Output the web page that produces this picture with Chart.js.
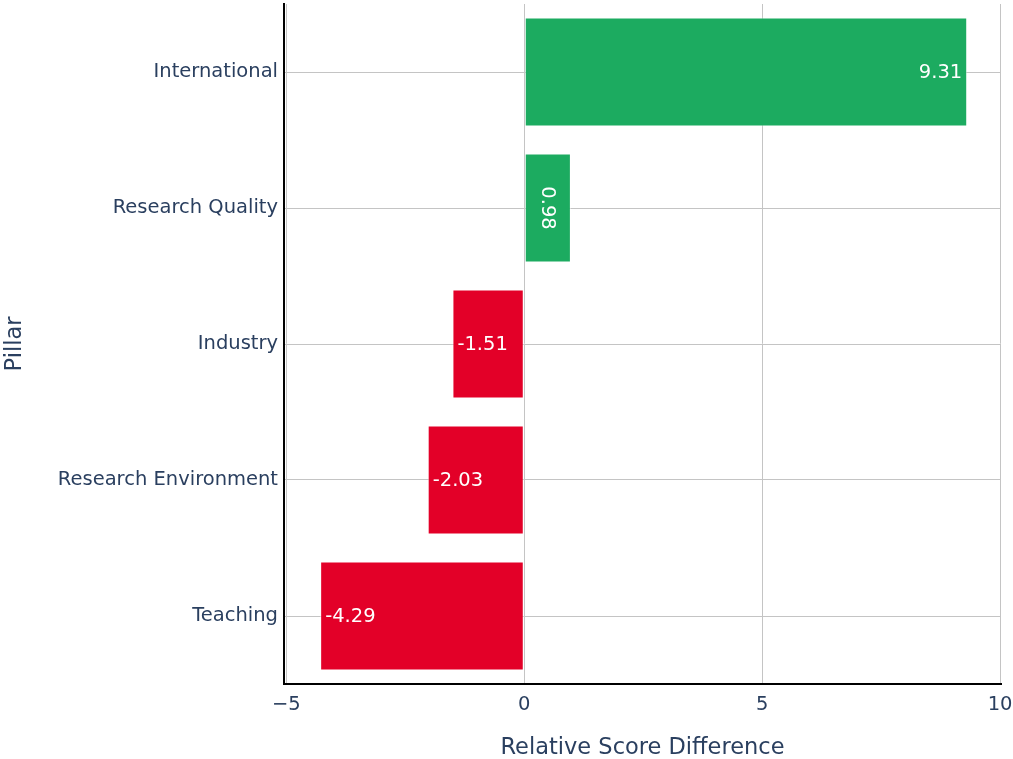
<!DOCTYPE html>
<html>
<head>
<meta charset="utf-8">
<script src="https://cdn.jsdelivr.net/npm/chart.js@4.4.1/dist/chart.umd.min.js"></script>
<style>
  html, body { margin: 0; padding: 0; background: #ffffff; }
  #wrap { width: 1013px; height: 759px; }
</style>
</head>
<body>
<div id="wrap"><canvas id="c" width="1013" height="759"></canvas></div>
<script>
const categories = ['International', 'Research Quality', 'Industry', 'Research Environment', 'Teaching'];
const values = [9.31, 0.98, -1.51, -2.03, -4.29];
const xTicks = [-5, 0, 5, 10];
const xTitle = 'Relative Score Difference';
const yTitle = 'Pillar';

const POS_COLOR = '#1cab60';
const NEG_COLOR = '#e30028';
const TEXT_COLOR = '#2a3f5f';
const GRID_COLOR = '#c4c4c4';
const FONT = 'DejaVu Sans, Verdana, sans-serif';

const labelPlugin = {
  id: 'barLabels',
  afterDatasetsDraw(chart) {
    const ctx = chart.ctx;
    const meta = chart.getDatasetMeta(0);
    const data = chart.data.datasets[0].data;
    ctx.save();
    ctx.font = '19.5px ' + FONT;
    ctx.fillStyle = '#ffffff';
    ctx.textBaseline = 'middle';
    meta.data.forEach((bar, i) => {
      const v = data[i];
      const txt = v.toFixed(2);
      const w = ctx.measureText(txt).width;
      const left = Math.min(bar.x, bar.base);
      const right = Math.max(bar.x, bar.base);
      const barW = right - left;
      const pad = 5;
      if (w + 2 * pad <= barW) {
        if (v >= 0) {
          ctx.textAlign = 'right';
          ctx.fillText(txt, right - pad, bar.y + 1);
        } else {
          ctx.textAlign = 'left';
          ctx.fillText(txt, left + pad, bar.y + 1);
        }
      } else {
        ctx.save();
        ctx.translate((left + right) / 2, bar.y);
        ctx.rotate(Math.PI / 2);
        ctx.textAlign = 'center';
        ctx.fillText(txt, 0, 1);
        ctx.restore();
      }
    });
    ctx.restore();
  }
};

new Chart(document.getElementById('c'), {
  type: 'bar',
  data: {
    labels: categories,
    datasets: [{
      data: values,
      backgroundColor: values.map(v => v >= 0 ? POS_COLOR : NEG_COLOR),
      borderColor: 'rgba(255,255,255,0.5)',
      borderWidth: 1,
      borderSkipped: false,
      barPercentage: 0.8,
      categoryPercentage: 1.0
    }]
  },
  options: {
    indexAxis: 'y',
    responsive: false,
    animation: false,
    devicePixelRatio: 1,
    layout: { padding: { left: 0, right: 12, top: 4, bottom: 0 } },
    plugins: {
      legend: { display: false },
      tooltip: { enabled: false }
    },
    scales: {
      x: {
        type: 'linear',
        min: -5.05,
        max: 10.02,
        afterBuildTicks: s => { s.ticks = xTicks.map(v => ({ value: v })); },
        afterFit: s => { s.height = 75; s.paddingLeft = 0; s.paddingRight = 0; },
        ticks: {
          color: TEXT_COLOR,
          font: { family: FONT, size: 19.5 },
          padding: 9,
          maxRotation: 0,
          callback: v => v < 0 ? '\u2212' + Math.abs(v) : String(v)
        },
        grid: { color: GRID_COLOR, lineWidth: 1, drawTicks: false },
        border: { display: true, color: '#000000', width: 2 },
        title: {
          display: true,
          text: xTitle,
          color: TEXT_COLOR,
          font: { family: FONT, size: 22.5, lineHeight: 1.0 },
          padding: { top: 0, bottom: 0 }
        }
      },
      y: {
        type: 'category',
        offset: true,
        afterFit: s => { s.width = 284; s.paddingTop = 0; s.paddingBottom = 0; },
        ticks: {
          color: TEXT_COLOR,
          font: { family: FONT, size: 19.5 },
          padding: 6
        },
        grid: { color: GRID_COLOR, lineWidth: 1, drawTicks: false, offset: false },
        border: { display: true, color: '#000000', width: 2 },
        title: {
          display: true,
          text: yTitle,
          color: TEXT_COLOR,
          font: { family: FONT, size: 22.5 },
          padding: { top: 2, bottom: 0 }
        }
      }
    }
  },
  plugins: [labelPlugin]
});
</script>
</body>
</html>
